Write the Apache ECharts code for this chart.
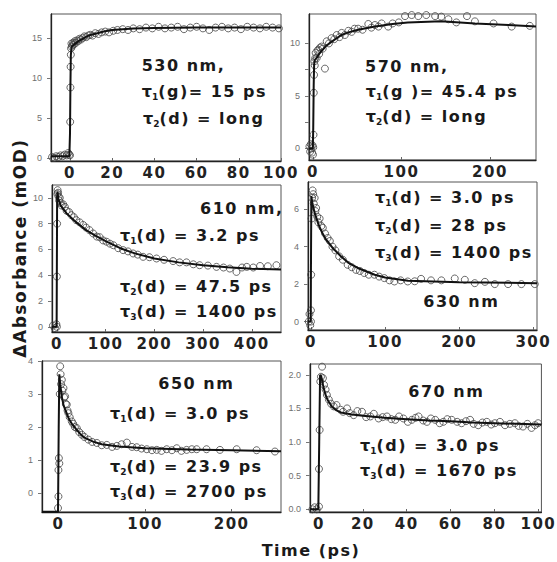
<!DOCTYPE html>
<html>
<head>
<meta charset="utf-8">
<script src="https://cdn.jsdelivr.net/npm/echarts@6/dist/echarts.min.js"></script>
<style>
  html, body { margin: 0; padding: 0; background: #fff; }
  #chart { width: 557px; height: 562px; }
  #chart text { letter-spacing: 1.5px; }
  #chart text[fill="#707070"] { letter-spacing: 0; }
</style>
</head>
<body>
<div id="chart"></div>
<script>
// Transient absorption kinetics, [time (ps), ΔA (mOD)] measured points and fitted curves

const pts530 = [[-8.5,0.1],[-7.5,0],[-6.5,0.2],[-5.5,0.1],[-4.5,0.3],[-3.5,0.2],[-2.5,0.4],[-1.5,0.3],[-0.8,0.6],[-0.3,0.4],
  [0,0.3],[0.1,4.5],[0.2,8.8],[0.3,11.4],[0.4,12.9],[0.5,13.7],[0.7,14.3],[0.9,13.9],[1.2,14.1],[1.5,14.4],[1.9,14.2],
  [2.3,14.6],[2.8,14.4],[3.3,14.7],[3.9,14.6],[4.5,14.9],[5.2,14.8],[6,15.0],[6.8,15.2],[7.7,15.1],[8.6,15.3],[9.6,15.4],
  [10.7,15.3],[12,15.6],[13.5,15.5],[15,15.7],[16.7,15.8],[18.5,15.7],[20.5,15.9],[22.5,16.0],[25,16.1],[27.5,16.0],
  [30,16.2],[33,16.1],[36,16.3],[39,16.2],[42,16.4],[45,16.2],[48,16.3],[51,16.4],[54,16.1],[57,16.3],[60,16.4],[63,16.2],
  [66,16.0],[69,16.3],[72,16.4],[75,16.2],[78,16.3],[81,16.1],[84,16.4],[87,16.3],[90,16.2],[93,16.4],[96,16.3],[99,16.2]];
const fit530 = [[-9,0.2],[-0.3,0.2],[0,3],[0.2,9],[0.4,12.8],[0.7,13.8],[1,14.0],[2,14.2],[4,14.6],[6,14.9],[8,15.2],
  [10,15.4],[13,15.6],[16,15.8],[20,16.0],[25,16.1],[30,16.2],[40,16.25],[60,16.3],[100,16.3]];

const pts570 = [[-4,0.2],[-3.2,-0.3],[-2.5,0.4],[-1.8,0],[-1,-0.4],[-0.5,0.3],[0,-0.6],[0.3,0.1],[0.6,1.3],[0.9,5.3],
  [1.2,7.0],[1.6,8.3],[2,7.9],[2.5,8.6],[3,9.1],[4.2,8.6],[5,9.3],[6,9.4],[7,9.0],[8,9.6],[9.8,9.7],[11,9.5],[13.5,7.6],
  [15.5,10.2],[18,10.0],[21,10.5],[24,10.4],[26.8,10.8],[30,10.6],[32.4,11.0],[36,10.8],[40,11.2],[43.7,11.1],[47,11.4],
  [51,11.4],[56,11.3],[62.5,11.85],[66,11.5],[70,11.75],[74,11.6],[77.6,11.9],[85,11.6],[90,11.9],[97,12.0],[104,12.6],
  [111.5,12.7],[119,12.6],[128,12.7],[138,12.6],[145,12.55],[153,12.3],[162,12.0],[174,12.6],[183,12.1],[204,11.9],
  [224.5,11.6],[245,11.67]];
const fit570 = [[-4.5,0],[-0.2,0],[0.3,2],[0.8,6],[1.3,8.0],[2,8.4],[4,8.6],[7,9.0],[10,9.3],[14,9.7],[20,10.1],
  [32,10.8],[40,11.05],[51,11.3],[70,11.6],[90,11.85],[107,12.0],[145,12.1],[183,11.9],[221,11.75],[252,11.6]];

const pts610 = [[-8,0.1],[-4,-0.1],[-1,0.2],[0,0],[0,3.9],[0.5,8.0],[1,10.3],[1.5,10.6],[2.5,10.4],[3.5,10.1],[4.6,9.8],
  [6,10.0],[8,9.6],[10,9.4],[13,9.5],[16.4,9.3],[20,9.0],[25,8.9],[30,8.66],[35,8.5],[40,8.27],[47,8.1],[54,7.9],[60,7.7],
  [67,7.5],[74.5,7.24],[82,7.0],[88,6.95],[95,6.7],[102,6.6],[109,6.45],[116,6.33],[126,6.1],[136,5.95],[146,5.85],
  [156.5,5.69],[166,5.6],[177,5.43],[190,5.4],[204.5,5.3],[220,5.2],[238.6,5.1],[252,5.0],[266,5.0],[280,4.85],[293,4.78],
  [310,4.75],[327.6,4.65],[342,4.6],[355,4.52],[368.6,4.26],[380,4.6],[389.7,4.65],[403,4.6],[417,4.72],[433,4.7],[450.6,4.78]];
const fit610 = [[-10,0],[-0.5,0],[0,5],[0.5,10],[1.2,10.5],[3,9.9],[8,9.4],[20,8.8],[40,8.1],[60,7.5],[80,7.05],
  [100,6.65],[130,6.1],[160,5.7],[200,5.3],[250,5.0],[300,4.78],[350,4.62],[400,4.5],[460,4.45]];

const pts630 = [[-3,0],[-2,0.4],[-1,-0.2],[0,0.6],[0,0],[0.3,2.5],[0.8,5.5],[1.5,6.6],[2.2,7.0],[3,6.8],[3.8,6.3],[5,6.6],
  [6,5.9],[7,6.06],[8.5,5.6],[10,5.3],[11.7,5.5],[14,5.1],[16,5.0],[19,4.7],[22.5,4.46],[25.5,4.3],[29,4.0],[33,3.8],
  [38,3.48],[43,3.3],[49.5,3.03],[55,2.9],[60.8,2.76],[66,2.7],[72,2.59],[78,2.5],[85.6,2.5],[92,2.4],[99,2.32],[106,2.2],
  [112.6,2.14],[121,2.2],[130.6,2.14],[140,2.15],[148.6,2.28],[162,2.2],[176,2.2],[194,2.3],[207.6,2.23],[221,2.05],
  [234.7,2.12],[248,2.0],[266,2.0],[284,2.0],[302,2.0]];
const fit630 = [[-4,0],[-0.3,0],[0,3],[0.5,6.7],[2,6.3],[5,5.8],[10,5.2],[15,4.75],[20,4.4],[30,3.9],[40,3.5],[50,3.15],
  [63,2.86],[86,2.5],[100,2.35],[131,2.18],[200,2.1],[305,2.05]];

const pts650 = [[-0.5,-0.45],[0,-0.1],[0,0.7],[0.5,1.06],[1,0.9],[1.5,3.0],[2,3.84],[2.5,3.6],[3,3.3],
  [3.9,3.43],[4.5,3.1],[5.8,3.18],[6.5,2.9],[7.7,2.93],[8.5,2.7],[9.6,2.68],[10.5,2.5],[11.5,2.42],[13,2.3],[15.4,2.17],
  [17,2.1],[19,2.0],[21.2,1.97],[24,1.85],[27,1.77],[30,1.7],[34.6,1.62],[39,1.55],[44.3,1.52],[50,1.45],[55.8,1.46],
  [62,1.4],[67.4,1.43],[73,1.48],[79,1.53],[85,1.4],[90.4,1.39],[96,1.35],[102,1.33],[108,1.3],[113.5,1.31],[119,1.28],
  [125,1.33],[131,1.3],[136.6,1.36],[142,1.28],[148,1.31],[154,1.33],[159.6,1.33],[171,1.33],[186.5,1.31],[205.8,1.33],
  [228.8,1.3],[250,1.26]];
const fit650 = [[-19,-0.56],[-0.5,-0.56],[0.3,2],[1,3.6],[2,3.3],[4,2.9],[6,2.65],[9,2.45],[12,2.25],[16,2.08],[20,1.95],
  [25,1.8],[30,1.68],[40,1.56],[50,1.48],[70,1.41],[100,1.36],[150,1.32],[200,1.3],[257,1.27]];

const pts670 = [[-3,0],[-2,0.03],[-1,0],[0,0.04],[0,0.6],[0.3,1.18],[0.6,1.9],[0.9,1.97],[1.4,2.12],[1.8,1.95],[2.3,1.85],
  [3,1.78],[3.6,1.7],[4.5,1.63],[5.5,1.57],[6.7,1.53],[8,1.55],[9.8,1.48],[11,1.45],[12.8,1.5],[14,1.43],[15.8,1.4],
  [17.5,1.46],[19.6,1.45],[21.5,1.37],[23.4,1.38],[25,1.42],[27.2,1.35],[29,1.37],[31,1.38],[33,1.34],[34.8,1.33],
  [36.5,1.38],[38.5,1.35],[40.5,1.3],[42.3,1.33],[44,1.36],[45.4,1.38],[47.5,1.32],[49.2,1.3],[51,1.35],[53,1.33],
  [55,1.28],[56.7,1.3],[58.5,1.34],[60.5,1.33],[63,1.3],[65,1.28],[67,1.31],[68.9,1.33],[70.5,1.27],[72.6,1.25],
  [74.5,1.29],[76.5,1.3],[78.5,1.26],[80.2,1.28],[82.5,1.3],[84.8,1.25],[87,1.27],[89.3,1.28],[91,1.24],[93,1.23],
  [95,1.27],[96.9,1.21],[98.5,1.25],[99.9,1.28]];
const fit670 = [[-4,0],[-0.3,0],[0.1,1.0],[0.5,2.0],[1,1.98],[2,1.82],[3,1.7],[4,1.62],[6,1.52],[8,1.47],[10,1.44],
  [15,1.41],[20,1.39],[30,1.36],[40,1.34],[50,1.32],[60,1.31],[70,1.29],[80,1.28],[90,1.27],[101.4,1.26]];

// Tick values
const xTicks530 = [0, 20, 40, 60, 80, 100];
const xTicks570 = [0, 100, 200];
const xTicks610 = [0, 100, 200, 300, 400];
const xTicks630 = [0, 100, 200, 300];
const xTicks650 = [0, 100, 200];
const xTicks670 = [0, 20, 40, 60, 80, 100];
const yTicks530 = [0, 5, 10, 15];
const yTicks570 = [0, 5, 10];
const yTicks610 = [0, 2, 4, 6, 8, 10];
const yTicks630 = [0, 2, 4, 6];
const yTicks650 = [0, 1, 2, 3, 4];
const yTicks670 = [0, 0.5, 1, 1.5, 2];

// Panel layout and axis ranges
const panels = [
  { box: [51, 14, 230, 147],  xr: [-9, 100],   yr: [-0.4, 18],   xt: xTicks530, yt: yTicks530, pts: pts530, fit: fit530, yd: 0 },
  { box: [309, 14, 227, 146], xr: [-4.5, 252], yr: [-1.1, 12.8], xt: xTicks570, yt: yTicks570, pts: pts570, fit: fit570, yd: 0, minor: [2.5, 7.5] },
  { box: [52, 185, 229, 147], xr: [-10, 460],  yr: [-0.4, 11],   xt: xTicks610, yt: yTicks610, pts: pts610, fit: fit610, yd: 0 },
  { box: [308, 182, 229, 148],xr: [-4, 305],   yr: [-0.45, 7.45],xt: xTicks630, yt: yTicks630, pts: pts630, fit: fit630, yd: 0 },
  { box: [42, 361, 239, 151], xr: [-19, 257],  yr: [-0.57, 4.0], xt: xTicks650, yt: yTicks650, pts: pts650, fit: fit650, yd: 0 },
  { box: [310, 364, 232, 148],xr: [-4.1, 101.4],yr: [-0.04, 2.16],xt: xTicks670, yt: yTicks670, pts: pts670, fit: fit670, yd: 1 }
];

const FONT = 'DejaVu Sans';
const INK = '#1a1a1a';

const grids = [], xAxes = [], yAxes = [], series = [];
panels.forEach((p, i) => {
  grids.push({
    left: p.box[0], top: p.box[1], width: p.box[2], height: p.box[3],
    show: true, borderColor: '#555', borderWidth: 1, backgroundColor: 'transparent'
  });
  xAxes.push({
    type: 'value', gridIndex: i, min: p.xr[0], max: p.xr[1],
    axisLine: { show: true, onZero: false, lineStyle: { color: '#222', width: 1.3 } },
    axisTick: { show: true, inside: true, length: 3, customValues: p.xt, lineStyle: { color: '#666' } },
    axisLabel: { customValues: p.xt, margin: 4, fontFamily: FONT, fontWeight: 'bold', fontSize: 15, color: '#222' },
    splitLine: { show: false }
  });
  yAxes.push({
    type: 'value', gridIndex: i, min: p.yr[0], max: p.yr[1],
    axisLine: { show: true, onZero: false, lineStyle: { color: '#222', width: 1.3 } },
    axisTick: { show: true, inside: false, length: 4, customValues: p.yt.concat(p.minor || []), lineStyle: { color: '#777' } },
    axisLabel: { customValues: p.yt, margin: 9, fontFamily: 'Liberation Sans', fontSize: 9, color: '#707070',
      formatter: v => p.yd ? v.toFixed(p.yd) : String(v) },
    splitLine: { show: false }
  });
  series.push({
    type: 'scatter', xAxisIndex: i, yAxisIndex: i, data: p.pts, z: 2,
    symbol: 'circle', symbolSize: 7,
    itemStyle: { color: 'rgba(255,255,255,0)', borderColor: '#444', borderWidth: 1 }
  });
  series.push({
    type: 'line', xAxisIndex: i, yAxisIndex: i, data: p.fit, z: 3,
    showSymbol: false, smooth: false, clip: true,
    lineStyle: { color: '#111', width: 2 }
  });
});

// Annotation text: wavelength labels and lifetime components
const rich = {
  m: { fontFamily: FONT, fontWeight: 'bold', fontSize: 16, fill: INK, lineHeight: 20 },
  s: { fontFamily: FONT, fontWeight: 'bold', fontSize: 9, fill: INK, lineHeight: 11, verticalAlign: 'bottom' }
};
function plain(x, y, text) {
  return { type: 'text', x, y, z: 10,
    style: { text, fill: INK, font: 'bold 16px ' + FONT, align: 'left', verticalAlign: 'middle',
      textAlign: 'left', textVerticalAlign: 'middle' } };
}
function tau(x, y, sub, rest) {
  return { type: 'text', x, y, z: 10,
    style: { text: '{m|τ}{s|' + sub + '}{m|' + rest + '}', rich, align: 'left', verticalAlign: 'middle',
      textAlign: 'left', textVerticalAlign: 'middle' } };
}

const notes = [
  plain(141.7, 65.7, '530 nm,'), tau(141.7, 91.7, '1', '(g)= 15 ps'), tau(143, 118, '2', '(d) = long'),
  plain(365, 66.7, '570 nm,'), tau(365.7, 91.7, '1', '(g )= 45.4 ps'), tau(365.7, 116.7, '2', '(d) = long'),
  plain(200, 208.3, '610 nm,'), tau(120, 235.7, '1', '(d) = 3.2 ps'), tau(120, 286.7, '2', '(d) = 47.5 ps'),
  tau(120, 311.7, '3', '(d) = 1400 ps'),
  tau(375, 197.7, '1', '(d) = 3.0 ps'), tau(375, 225, '2', '(d) = 28 ps'), tau(375, 252.3, '3', '(d) = 1400 ps'),
  plain(423.3, 301.7, '630 nm'),
  plain(158.3, 383.3, '650 nm'), tau(110, 413.3, '1', '(d) = 3.0 ps'), tau(110, 466, '2', '(d) = 23.9 ps'),
  tau(110, 491, '3', '(d) = 2700 ps'),
  plain(408.3, 391.7, '670 nm'), tau(360, 445, '1', '(d) = 3.0 ps'), tau(360, 470, '3', '(d) = 1670 ps'),
  // axis titles
  { type: 'text', x: 20, y: 248, rotation: Math.PI / 2, z: 10,
    style: { text: 'ΔAbsorbance (mOD)', fill: INK, font: 'bold 17px ' + FONT, align: 'center', verticalAlign: 'middle',
      textAlign: 'center', textVerticalAlign: 'middle' } },
  { type: 'text', x: 311, y: 550, z: 10,
    style: { text: 'Time (ps)', fill: INK, font: 'bold 16px ' + FONT, align: 'center', verticalAlign: 'middle',
      textAlign: 'center', textVerticalAlign: 'middle' } }
];

const chart = echarts.init(document.getElementById('chart'), null, { renderer: 'svg', width: 557, height: 562 });
chart.setOption({
  animation: false,
  backgroundColor: '#fff',
  grid: grids,
  xAxis: xAxes,
  yAxis: yAxes,
  series,
  graphic: notes
});
</script>
</body>
</html>
